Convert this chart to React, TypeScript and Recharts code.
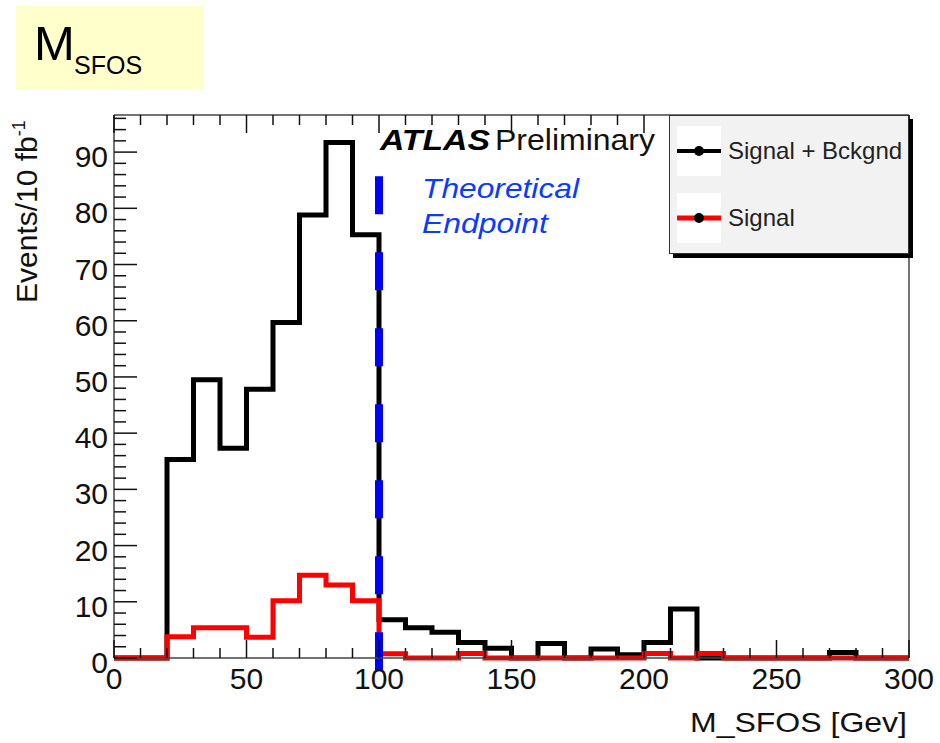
import React from 'react';
import { ComposedChart, Line, XAxis, YAxis, ReferenceLine, Legend } from 'recharts';

// lower edges of the 10 GeV bins
const binLowEdges = [0, 10, 20, 30, 40, 50, 60, 70, 80, 90, 100, 110, 120, 130, 140, 150, 160, 170, 180, 190, 200, 210, 220, 230, 240, 250, 260, 270, 280, 290];
const signalPlusBkg = [0, 0, 35.3, 49.5, 37.3, 47.8, 59.7, 78.8, 91.7, 75.3, 6.8, 5.4, 4.6, 2.75, 1.75, 0, 2.6, 0, 1.6, 0.6, 2.75, 8.7, 0, 0, 0, 0, 0, 1.0, 0, 0];
const signalOnly = [0, 0, 3.8, 5.4, 5.4, 3.7, 10.2, 14.7, 13.0, 10.2, 0.75, 0, 0, 0.8, 0, 0, 0, 0, 0, 0, 0.8, 0, 0.8, 0, 0, 0, 0, 0, 0, 0];

const xTicks = [0, 10, 20, 30, 40, 50, 60, 70, 80, 90, 100, 110, 120, 130, 140, 150, 160, 170, 180, 190, 200, 210, 220, 230, 240, 250, 260, 270, 280, 290, 300];
const xLabels = [0, 50, 100, 150, 200, 250, 300];
const yTicks = [0, 2, 4, 6, 8, 10, 12, 14, 16, 18, 20, 22, 24, 26, 28, 30, 32, 34, 36, 38, 40, 42, 44, 46, 48, 50, 52, 54, 56, 58, 60, 62, 64, 66, 68, 70, 72, 74, 76, 78, 80, 82, 84, 86, 88, 90, 92, 94, 96];
const yLabels = [0, 10, 20, 30, 40, 50, 60, 70, 80, 90];

const endpoint = 100;
const endpointSpan = [85.7, -3];
const seriesOrder = ['total', 'signal'];

const FONT = '"Liberation Sans", Arial, Helvetica, sans-serif';
const FRAME = '#444';

// histogram table: one point per bin edge, last value repeated at 300
const data = [
  ...binLowEdges.map((x, i) => ({ x, total: signalPlusBkg[i], signal: signalOnly[i] })),
  { x: 300, total: signalPlusBkg[signalPlusBkg.length - 1], signal: signalOnly[signalOnly.length - 1] },
];

const BottomTick = (props: any) => {
  const { x, y, payload } = props;
  const major = xLabels.includes(payload.value);
  return (
    <g>
      <line x1={x} x2={x} y1={y} y2={y - (major ? 18 : 10)} stroke="#111" strokeWidth={1.5} />
      {major && (
        <text x={x} y={y + 31} textAnchor="middle" fontSize={30} fontFamily={FONT} fill="#111">
          {payload.value}
        </text>
      )}
    </g>
  );
};

const TopTick = (props: any) => {
  const { x, y, payload } = props;
  const major = xLabels.includes(payload.value);
  return <line x1={x} x2={x} y1={y} y2={y + (major ? 18 : 10)} stroke="#111" strokeWidth={1.5} />;
};

const LeftTick = (props: any) => {
  const { x, y, payload } = props;
  const major = yLabels.includes(payload.value);
  return (
    <g>
      <line x1={x} x2={x + (major ? 23 : 12)} y1={y} y2={y} stroke="#111" strokeWidth={1.5} />
      {major && (
        <text x={x - 6} y={y + 15} textAnchor="end" fontSize={30} fontFamily={FONT} fill="#111">
          {payload.value}
        </text>
      )}
    </g>
  );
};

const RightTick = (props: any) => {
  const { x, y, payload } = props;
  const major = yLabels.includes(payload.value);
  return <line x1={x} x2={x - (major ? 23 : 12)} y1={y} y2={y} stroke="#111" strokeWidth={1.5} />;
};

const HistLegend = (props: any) => {
  const items = [...(props.payload || [])].sort(
    (a: any, b: any) => seriesOrder.indexOf(a.dataKey) - seriesOrder.indexOf(b.dataKey)
  );
  return (
    <div
      style={{
        width: 240,
        height: 139,
        boxSizing: 'border-box',
        background: '#f2f2f2',
        border: '1.5px solid #333',
        boxShadow: '4px 4px 0 #000',
        position: 'relative',
        fontFamily: FONT,
      }}
    >
      {items.map((it: any, i: number) => (
        <div key={i} style={{ position: 'absolute', left: 7, top: i === 0 ? 10 : 77, height: 50, display: 'flex', alignItems: 'center' }}>
          <svg width={44} height={50} style={{ background: '#fff', display: 'block' }}>
            <line x1={0} x2={44} y1={25} y2={25} stroke={it.color} strokeWidth={i === 0 ? 4 : 5} />
            <circle cx={22} cy={25} r={5} fill="#000" />
          </svg>
          <span style={{ marginLeft: 7, fontSize: 24, color: '#222', whiteSpace: 'nowrap' }}>{it.value}</span>
        </div>
      ))}
    </div>
  );
};

export default function App() {
  return (
    <div style={{ position: 'absolute', left: 0, top: 0, width: 940, height: 743, background: '#fff', fontFamily: FONT }}>
      <div style={{ position: 'absolute', left: 16, top: 6, width: 188, height: 83, background: '#FFFFCC' }} />
      <svg width={940} height={743} style={{ position: 'absolute', left: 0, top: 0 }}>
        <text x={34} y={60} fontSize={49} fontFamily={FONT} fill="#000">M</text>
        <text x={74} y={74} fontSize={25} fontFamily={FONT} fill="#000">SFOS</text>
      </svg>
      <div style={{ position: 'absolute', left: 0, top: 0 }}>
        <ComposedChart width={940} height={743} data={data} margin={{ top: 114, right: 30, bottom: 0, left: 0 }}>
          <XAxis
            dataKey="x"
            type="number"
            domain={[0, 300]}
            ticks={xTicks}
            interval={0}
            height={85}
            tickSize={0}
            tickMargin={0}
            tick={<BottomTick />}
            tickLine={false}
            axisLine={{ stroke: FRAME, strokeWidth: 1.5 }}
          />
          <XAxis
            xAxisId="top"
            orientation="top"
            dataKey="x"
            type="number"
            domain={[0, 300]}
            ticks={xTicks}
            interval={0}
            height={1}
            tickSize={0}
            tickMargin={0}
            tick={<TopTick />}
            tickLine={false}
            axisLine={{ stroke: FRAME, strokeWidth: 1.5 }}
          />
          <YAxis
            type="number"
            domain={[0, 96.6]}
            ticks={yTicks}
            interval={0}
            width={114}
            tickSize={0}
            tickMargin={0}
            tick={<LeftTick />}
            tickLine={false}
            axisLine={{ stroke: FRAME, strokeWidth: 1.5 }}
          />
          <YAxis
            yAxisId="right"
            orientation="right"
            type="number"
            domain={[0, 96.6]}
            ticks={yTicks}
            interval={0}
            width={1}
            tickSize={0}
            tickMargin={0}
            tick={<RightTick />}
            tickLine={false}
            axisLine={{ stroke: FRAME, strokeWidth: 1.5 }}
          />
          <Line
            type="stepAfter"
            dataKey="total"
            name="Signal + Bckgnd"
            stroke="#000"
            strokeWidth={5}
            dot={false}
            activeDot={false}
            isAnimationActive={false}
          />
          <Line
            type="stepAfter"
            dataKey="signal"
            name="Signal"
            stroke="#ff0000"
            strokeWidth={5}
            dot={false}
            activeDot={false}
            isAnimationActive={false}
          />
          <ReferenceLine
            segment={[{ x: endpoint, y: endpointSpan[0] }, { x: endpoint, y: endpointSpan[1] }]}
            stroke="#0000ff"
            strokeWidth={8}
            strokeDasharray="38 38"
            ifOverflow="visible"
          />
          <Legend
            layout="vertical"
            align="center"
            verticalAlign="middle"
            content={<HistLegend />}
            wrapperStyle={{ position: 'absolute', left: 669, top: 115, width: 240, height: 139 }}
          />
        </ComposedChart>
      </div>
      <svg width={940} height={743} style={{ position: 'absolute', left: 0, top: 0, pointerEvents: 'none' }}>
        <text x={380} y={150} fontSize={30} fontWeight="bold" fontStyle="italic" fontFamily={FONT} fill="#000" textLength={110} lengthAdjust="spacingAndGlyphs">ATLAS</text>
        <text x={495} y={150} fontSize={30} fontFamily={FONT} fill="#111" textLength={160} lengthAdjust="spacingAndGlyphs">Preliminary</text>
        <text x={422} y={198} fontSize={28} fontStyle="italic" fontFamily={FONT} fill="#0a3cff" textLength={157} lengthAdjust="spacingAndGlyphs">Theoretical</text>
        <text x={422} y={233} fontSize={28} fontStyle="italic" fontFamily={FONT} fill="#0a3cff" textLength={126} lengthAdjust="spacingAndGlyphs">Endpoint</text>
        <text transform="rotate(-90 37 303)" x={37} y={303} fontSize={30} fontFamily={FONT} fill="#111">
          Events/10 fb<tspan fontSize={18} dy={-12}>-1</tspan>
        </text>
        <text x={907} y={732} textAnchor="end" fontSize={28} fontFamily={FONT} fill="#111" textLength={217} lengthAdjust="spacingAndGlyphs">M_SFOS [Gev]</text>
      </svg>
    </div>
  );
}
